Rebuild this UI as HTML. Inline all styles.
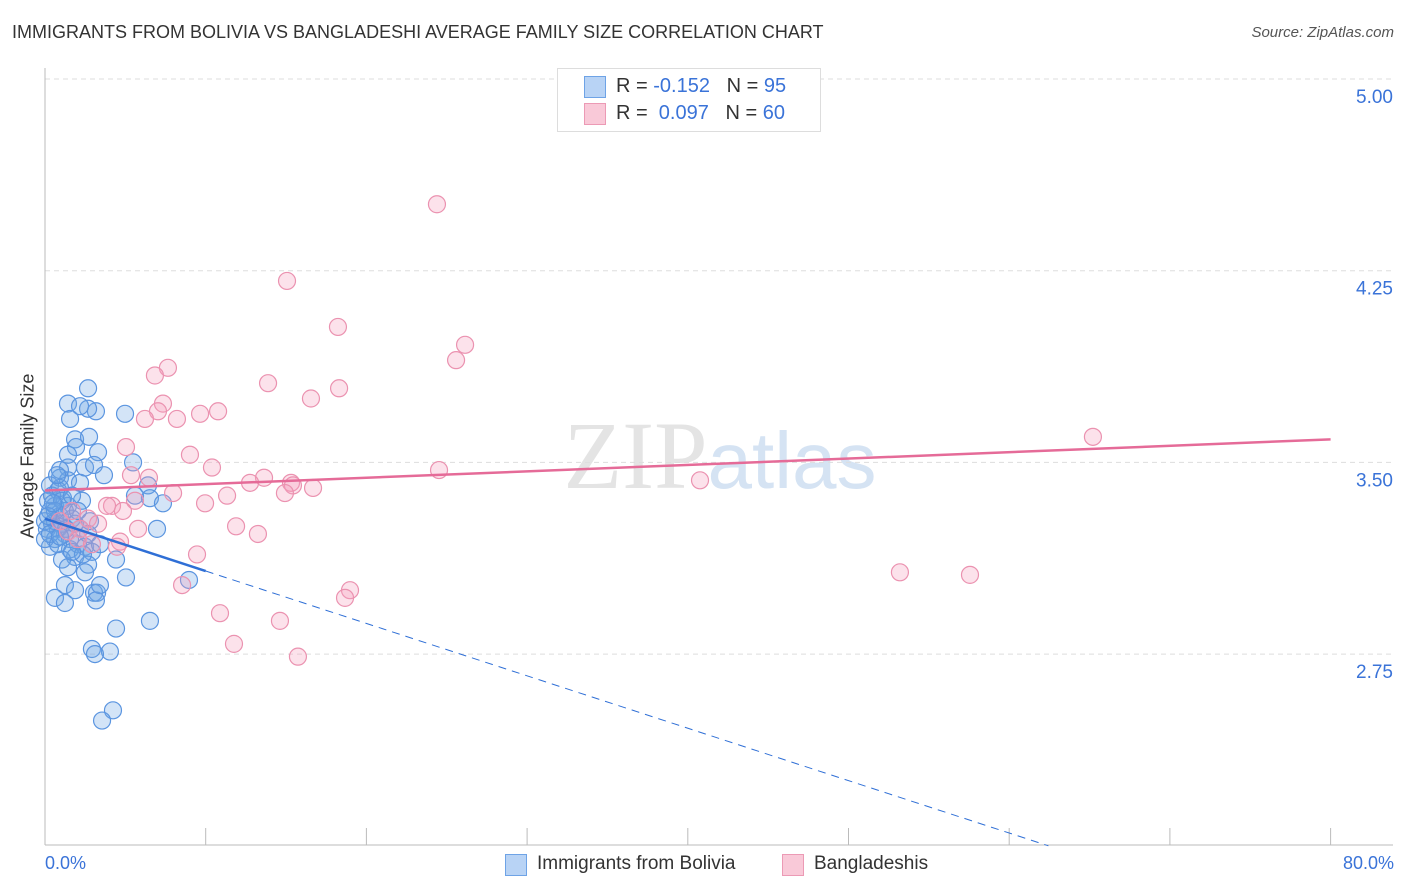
<!DOCTYPE html>
<html><head><meta charset="utf-8"><style>
body{margin:0;background:#fff;font-family:"Liberation Sans",sans-serif;}
#wrap{position:relative;width:1406px;height:892px;overflow:hidden;}
.t{position:absolute;white-space:nowrap;}
</style></head><body>
<div id="wrap">
<div class="t" style="left:12px;top:22px;font-size:18px;color:#333;">IMMIGRANTS FROM BOLIVIA VS BANGLADESHI AVERAGE FAMILY SIZE CORRELATION CHART</div>
<div class="t" style="right:12px;top:24px;font-size:15px;color:#555;font-style:italic;">Source: ZipAtlas.com</div>
<svg id="svg" width="1406" height="892" style="position:absolute;left:0;top:0"></svg>
<div class="t" style="left:557px;top:68px;width:262px;height:62px;border:1px solid #ddd;background:#fff;font-size:20px;">
 <div style="position:absolute;left:26px;top:7px;width:20px;height:20px;background:#b8d3f5;border:1px solid #6ea3e6;"></div>
 <div style="position:absolute;left:58px;top:6px;color:#333">R = <span style="color:#3a73d8">-0.152</span>&nbsp;&nbsp;&nbsp;N = <span style="color:#3a73d8">95</span></div>
 <div style="position:absolute;left:26px;top:34px;width:20px;height:20px;background:#f9c9d8;border:1px solid #ec9ab5;"></div>
 <div style="position:absolute;left:58px;top:33px;color:#333">R = &nbsp;<span style="color:#3a73d8">0.097</span>&nbsp;&nbsp;&nbsp;N = <span style="color:#3a73d8">60</span></div>
</div>
<div class="t" style="left:28px;top:456px;font-size:18px;color:#333;transform:translate(-50%,-50%) rotate(-90deg);">Average Family Size</div>
<div class="t" style="left:45px;top:853px;font-size:18px;color:#3a73d8;">0.0%</div>
<div class="t" style="right:12px;top:853px;font-size:18px;color:#3a73d8;">80.0%</div>
<div style="position:absolute;left:505px;top:853px;">
 <div style="position:absolute;left:0;top:1px;width:20px;height:20px;background:#b8d3f5;border:1px solid #6ea3e6;"></div>
 <div class="t" style="left:32px;top:0;font-size:19px;color:#333;">Immigrants from Bolivia</div></div>
<div style="position:absolute;left:782px;top:853px;">
 <div style="position:absolute;left:0;top:1px;width:20px;height:20px;background:#f9c9d8;border:1px solid #ec9ab5;"></div>
 <div class="t" style="left:32px;top:0;font-size:19px;color:#333;">Bangladeshis</div></div>
</div>
<script>
const yTicks=[5.00,4.25,3.50,2.75];
const yTickLabels=["5.00","4.25","3.50","2.75"];
const xTicks=[0,10,20,30,40,50,60,70,80];
const boliviaX=[2.68,1.43,3.17,4.98,1.56,2.68,2.18,1.87,2.74,3.30,1.93,2.49,1.43,3.05,5.48,3.67,0.93,1.43,2.18,0.31,0.81,1.12,2.30,5.60,6.41,6.53,7.34,0.62,1.43,0.31,0.93,1.68,0.44,0.81,0.12,1.24,0.62,6.97,2.05,0.31,1.56,2.49,2.92,1.87,1.06,2.68,1.43,4.42,1.24,5.04,1.87,3.05,3.24,0.62,1.24,8.96,6.53,4.42,2.92,4.04,3.11,4.23,3.55,0.93,0.62,1.06,0,0.19,0.44,1.56,2.18,1.24,0.93,0.75,1.87,2.68,2.36,3.42,1.43,0,0.31,0.81,1.06,1.68,0.62,0.19,1.31,2.05,2.80,0.50,0.93,1.68,2.49,3.17,3.42];
const boliviaY=[3.79,3.73,3.70,3.69,3.67,3.71,3.72,3.59,3.60,3.54,3.56,3.48,3.48,3.49,3.50,3.45,3.44,3.43,3.42,3.41,3.39,3.36,3.35,3.37,3.41,3.36,3.34,3.33,3.33,3.31,3.29,3.28,3.26,3.24,3.24,3.22,3.20,3.24,3.18,3.17,3.16,3.17,3.15,3.13,3.12,3.10,3.09,3.12,3.02,3.05,3.00,2.99,2.99,2.97,2.95,3.04,2.88,2.85,2.77,2.76,2.75,2.53,2.49,3.47,3.27,3.26,3.27,3.35,3.37,3.20,3.24,3.31,3.40,3.45,3.26,3.22,3.14,3.18,3.53,3.20,3.22,3.18,3.35,3.37,3.31,3.29,3.24,3.31,3.27,3.34,3.21,3.15,3.07,2.96,3.02];
const bangX=[24.39,15.06,18.23,26.14,25.58,7.65,6.84,13.88,18.30,16.55,7.34,10.77,7.03,9.65,8.21,6.22,5.04,9.02,10.39,24.52,5.35,6.47,13.63,12.76,15.31,15.43,14.93,16.68,7.97,11.33,5.60,4.17,3.86,9.96,4.85,1.68,2.68,11.89,3.30,13.25,5.79,2.18,1.43,2.05,2.92,4.67,4.48,9.46,8.53,18.98,18.67,10.89,14.62,11.76,15.74,65.21,40.76,53.20,57.56,0.93];
const bangY=[4.51,4.21,4.03,3.96,3.90,3.87,3.84,3.81,3.79,3.75,3.73,3.70,3.70,3.69,3.67,3.67,3.56,3.53,3.48,3.47,3.45,3.44,3.44,3.42,3.42,3.41,3.38,3.40,3.38,3.37,3.35,3.33,3.33,3.34,3.31,3.31,3.28,3.25,3.26,3.22,3.24,3.24,3.23,3.20,3.18,3.19,3.17,3.14,3.02,3.00,2.97,2.91,2.88,2.79,2.74,3.60,3.43,3.07,3.06,3.27];
const boliviaTrend=[3.28,-0.0205];
const bangTrend=[3.39,0.0025];

const svg=document.getElementById('svg');const NS='http://www.w3.org/2000/svg';
const L=45,R=1393,T=68,B=845;
function sx(v){return 45+v*16.07;}
function sy(v){return 79+(5-v)*255.6;}
function mk(tag,at){const e=document.createElementNS(NS,tag);for(const k in at)e.setAttribute(k,at[k]);svg.appendChild(e);return e;}
// watermark
const wm=mk('text',{x:720,y:488,'text-anchor':'middle','font-size':96,'font-family':'Liberation Serif, serif',fill:'#e4e4e4'});


wm.innerHTML='ZIP<tspan fill="#d5e3f3" font-family="Liberation Sans, sans-serif" font-size="80">atlas</tspan>';
yTicks.forEach((v,i)=>{
 const g=mk('line',{x1:L,x2:R,y1:sy(v),y2:sy(v),stroke:'#ddd','stroke-dasharray':'5,4'});
 
 
 const t=mk('text',{x:R,y:sy(v)+24,'text-anchor':'end','font-size':19,fill:'#3a73d8','font-family':'Liberation Sans, sans-serif'});
 
 
 t.textContent=yTickLabels[i];
});
const ax=mk('line',{x1:L,x2:L,y1:T,y2:B,stroke:'#bbb'});


const bx=mk('line',{x1:L,x2:R,y1:B,y2:B,stroke:'#bbb'});


xTicks.forEach(v=>{
 const t=mk('line',{x1:sx(v),x2:sx(v),y1:828,y2:B,stroke:'#bbb'});
 
 
});
boliviaX.forEach((x,i)=>{
 const c=mk('circle',{cx:sx(x),cy:sy(boliviaY[i]),r:8.5,fill:'rgba(110,165,230,0.3)',stroke:'#5b95e0','stroke-width':1.2});
 
 
});
bangX.forEach((x,i)=>{
 const c=mk('circle',{cx:sx(x),cy:sy(bangY[i]),r:8.5,fill:'rgba(245,160,190,0.3)',stroke:'#eb92b0','stroke-width':1.2});
 
 
});
function ty(tr,x){return tr[0]+tr[1]*x;}
const xEnd=(2.0-boliviaTrend[0])/boliviaTrend[1];
const l1=mk('line',{x1:sx(0),y1:sy(ty(boliviaTrend,0)),x2:sx(10),y2:sy(ty(boliviaTrend,10)),stroke:'#2f6fd6','stroke-width':2.5});


const l2=mk('line',{x1:sx(10),y1:sy(ty(boliviaTrend,10)),x2:sx(xEnd),y2:sy(ty(boliviaTrend,xEnd)),stroke:'#2f6fd6','stroke-width':1,'stroke-dasharray':'8,6'});


const l3=mk('line',{x1:sx(0),y1:sy(ty(bangTrend,0)),x2:sx(80),y2:sy(ty(bangTrend,80)),stroke:'#e56b98','stroke-width':2.5});


</script>
</body></html>
